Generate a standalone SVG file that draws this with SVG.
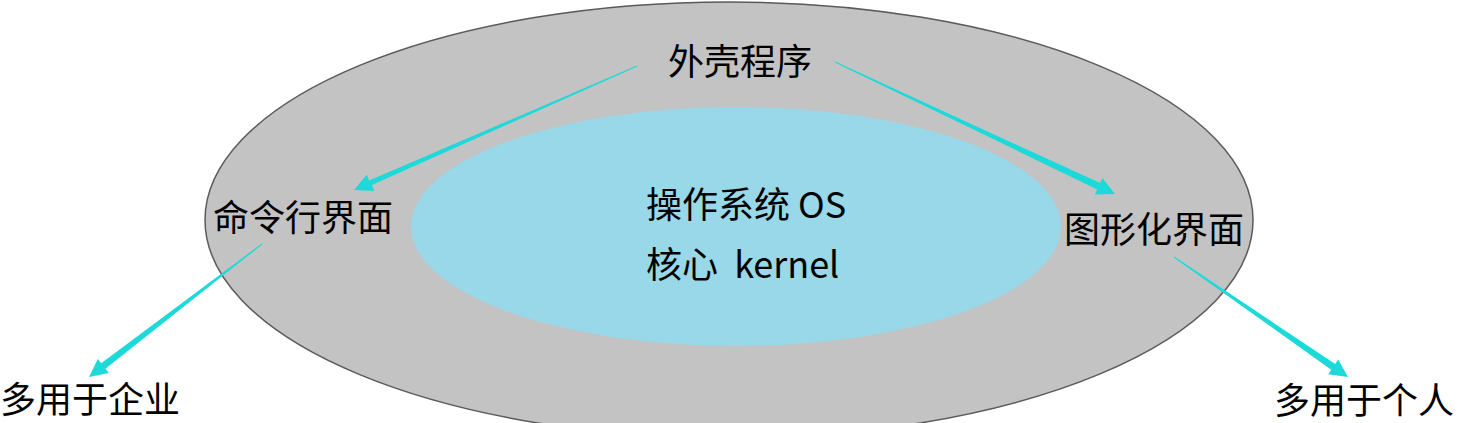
<svg xmlns="http://www.w3.org/2000/svg" width="1473" height="423" viewBox="0 0 1473 423">
<style>
.t{font-family:"Noto Sans CJK SC","Noto Sans",sans-serif;font-size:36px;fill:#000}
.arrow{fill:#1ED9D9}
</style>
<rect width="1473" height="423" fill="#fff"/>
<g id="shell">
<ellipse cx="729" cy="220" rx="524" ry="218" fill="#C3C3C3" stroke="#5a5a5a" stroke-width="1.5"/>
<text class="t" x="740" y="75" text-anchor="middle">外壳程序</text>
</g>
<g id="kernel">
<ellipse cx="736" cy="226.5" rx="325" ry="119.5" fill="#98D8E8"/>
<text class="t" x="646" y="218">操作系统 OS</text>
<text class="t" x="646" y="278" xml:space="preserve">核心  kernel</text>
</g>
<g id="cli">
<text class="t" x="303" y="231" text-anchor="middle">命令行界面</text>
</g>
<g id="gui">
<text class="t" x="1154" y="243" text-anchor="middle">图形化界面</text>
</g>
<g id="enterprise">
<text class="t" x="0" y="413">多用于企业</text>
</g>
<g id="personal">
<text class="t" x="1274" y="414">多用于个人</text>
</g>
<g id="connectors">
<polygon class="arrow" points="636.8,65.5 369.1,180.6 366.9,174.6 354,190 374.1,191.0 371.9,185.0 637.2,66.5"/>
<polygon class="arrow" points="835.2,61.5 1100.2,183.1 1102.5,178.2 1115,194 1094.9,194.4 1097.2,189.4 834.8,62.5"/>
<polygon class="arrow" points="261.7,243.6 101.2,363.2 97.8,358.9 89,377 108.8,373.1 105.4,368.8 262.3,244.4"/>
<polygon class="arrow" points="1174.3,256.6 1335.2,363.9 1338.2,359.4 1348,377 1328.2,374.2 1331.2,369.7 1173.7,257.4"/>
</g>
</svg>
